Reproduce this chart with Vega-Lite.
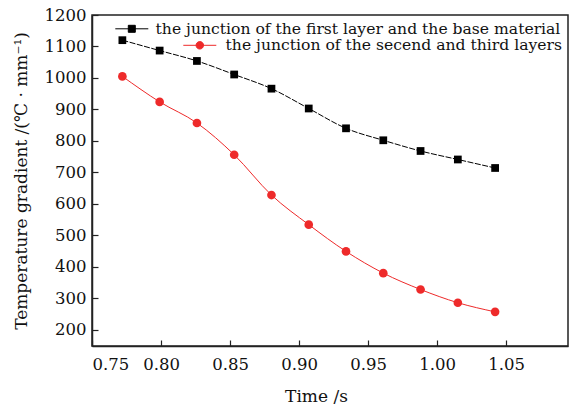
{
  "$schema": "https://vega.github.io/schema/vega-lite/v6.json",
  "autosize": "none",
  "width": 476,
  "height": 331,
  "padding": {"left": 92, "top": 15, "right": 1, "bottom": 62},
  "background": "white",
  "config": {
    "font": "DejaVu Serif",
    "view": {"stroke": "#222", "strokeWidth": 1.5},
    "axis": {
      "labelFont": "DejaVu Serif",
      "titleFont": "DejaVu Serif",
      "labelFontSize": 16.5,
      "titleFontSize": 17,
      "labelColor": "#111",
      "titleColor": "#111",
      "titleFontWeight": "normal",
      "domainColor": "#222",
      "tickColor": "#222",
      "domainWidth": 1.5,
      "tickWidth": 1.2,
      "tickSize": -6,
      "grid": false
    },
    "legend": {
      "labelFont": "DejaVu Serif",
      "labelFontSize": 15.6,
      "labelColor": "#111",
      "labelLimit": 0,
      "padding": 0,
      "title": null
    }
  },
  "datasets": {
    "first": [
      {"time": 0.772, "gradient": 1120, "series": "the junction of the first layer and the base material"},
      {"time": 0.799, "gradient": 1087, "series": "the junction of the first layer and the base material"},
      {"time": 0.826, "gradient": 1054, "series": "the junction of the first layer and the base material"},
      {"time": 0.853, "gradient": 1011, "series": "the junction of the first layer and the base material"},
      {"time": 0.880, "gradient": 966, "series": "the junction of the first layer and the base material"},
      {"time": 0.907, "gradient": 903, "series": "the junction of the first layer and the base material"},
      {"time": 0.934, "gradient": 840, "series": "the junction of the first layer and the base material"},
      {"time": 0.961, "gradient": 802, "series": "the junction of the first layer and the base material"},
      {"time": 0.988, "gradient": 768, "series": "the junction of the first layer and the base material"},
      {"time": 1.015, "gradient": 741, "series": "the junction of the first layer and the base material"},
      {"time": 1.042, "gradient": 714, "series": "the junction of the first layer and the base material"}
    ],
    "second": [
      {"time": 0.772, "gradient": 1005, "series": "the junction of the secend and third layers"},
      {"time": 0.799, "gradient": 924, "series": "the junction of the secend and third layers"},
      {"time": 0.826, "gradient": 857, "series": "the junction of the secend and third layers"},
      {"time": 0.853, "gradient": 756, "series": "the junction of the secend and third layers"},
      {"time": 0.880, "gradient": 628, "series": "the junction of the secend and third layers"},
      {"time": 0.907, "gradient": 534, "series": "the junction of the secend and third layers"},
      {"time": 0.934, "gradient": 449, "series": "the junction of the secend and third layers"},
      {"time": 0.961, "gradient": 380, "series": "the junction of the secend and third layers"},
      {"time": 0.988, "gradient": 328, "series": "the junction of the secend and third layers"},
      {"time": 1.015, "gradient": 286, "series": "the junction of the secend and third layers"},
      {"time": 1.042, "gradient": 257, "series": "the junction of the secend and third layers"}
    ]
  },
  "encoding": {
    "x": {
      "field": "time",
      "type": "quantitative",
      "scale": {"domain": [0.75, 1.0948], "nice": false, "zero": false},
      "axis": {
        "values": [0.75, 0.8, 0.85, 0.9, 0.95, 1.0, 1.05],
        "format": ".2f",
        "title": "Time /s",
        "labelPadding": 16,
        "titlePadding": 16,
        "titleX": 224
      }
    },
    "y": {
      "field": "gradient",
      "type": "quantitative",
      "scale": {"domain": [148.5, 1200], "nice": false, "zero": false},
      "axis": {
        "values": [200, 300, 400, 500, 600, 700, 800, 900, 1000, 1100, 1200],
        "format": "d",
        "title": "Temperature gradient /(℃ · mm⁻¹)",
        "labelPadding": 12,
        "titlePadding": 14
      }
    }
  },
  "layer": [
    {
      "data": {"name": "first"},
      "encoding": {
        "color": {
          "field": "series",
          "type": "nominal",
          "scale": {"range": ["#000000"]},
          "legend": {
            "orient": "none",
            "legendX": 32,
            "legendY": 6,
            "symbolType": "M-3.3,0H3.3M-0.7,-0.7H0.7V0.7H-0.7Z",
            "symbolSize": 100,
            "symbolStrokeWidth": 1,
            "labelOffset": 16
          }
        }
      },
      "layer": [
        {"mark": {"type": "line", "strokeWidth": 1, "interpolate": "monotone", "strokeDash": [6, 1.5]}},
        {"mark": {"type": "point", "shape": "square", "filled": true, "size": 60, "opacity": 1}}
      ]
    },
    {
      "data": {"name": "second"},
      "encoding": {
        "color": {
          "field": "series",
          "type": "nominal",
          "scale": {"range": ["#ee2a2a"]},
          "legend": {
            "orient": "none",
            "legendX": 100,
            "legendY": 22.5,
            "symbolType": "M-3.3,0H3.3M-0.75,0A0.75,0.75 0 1,0 0.75,0A0.75,0.75 0 1,0 -0.75,0Z",
            "symbolSize": 100,
            "symbolStrokeWidth": 1,
            "labelOffset": 18
          }
        }
      },
      "layer": [
        {"mark": {"type": "line", "strokeWidth": 1, "interpolate": "monotone"}},
        {"mark": {"type": "point", "shape": "circle", "filled": true, "size": 75, "opacity": 1}}
      ]
    }
  ],
  "resolve": {"scale": {"color": "independent"}, "legend": {"color": "independent"}}
}
